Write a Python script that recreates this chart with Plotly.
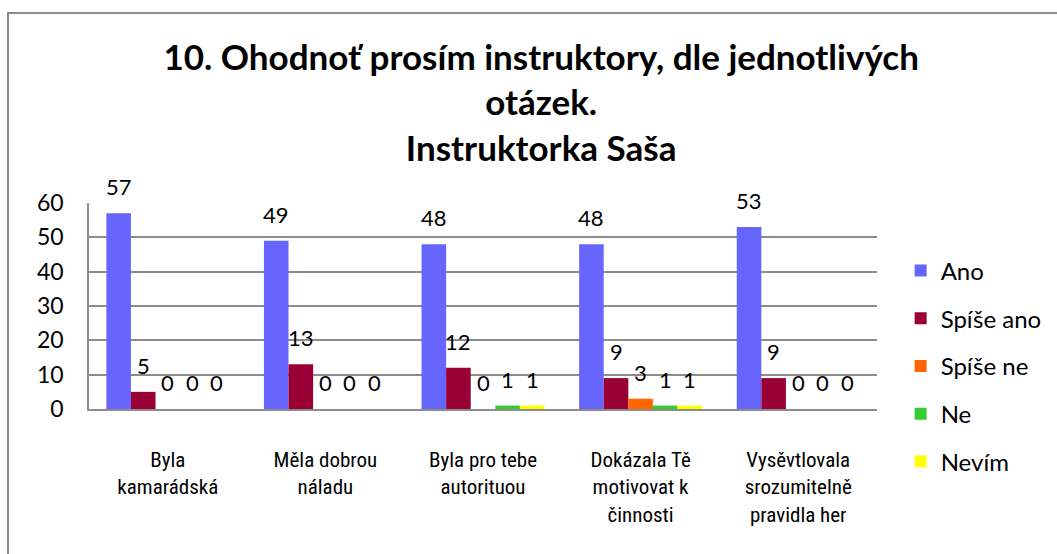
import plotly.graph_objects as go

categories = ["Byla<br>kamarádská", "Měla dobrou<br>náladu", "Byla pro tebe<br>autorituou",
              "Dokázala Tě<br>motivovat k<br>činnosti", "Vysěvtlovala<br>srozumitelně<br>pravidla her"]
series_names = ["Ano", "Spíše ano", "Spíše ne", "Ne", "Nevím"]
ano = [57, 49, 48, 48, 53]
spise_ano = [5, 13, 12, 9, 9]
spise_ne = [0, 0, 0, 3, 0]
ne = [0, 0, 1, 1, 0]
nevim = [0, 0, 1, 1, 0]
colors = ["#6666FF", "#990033", "#FF6600", "#33CC33", "#FFFF00"]

values = [ano, spise_ano, spise_ne, ne, nevim]
FONT = "Lato, Carlito, Calibri, sans-serif"
NARROW = "Liberation Sans Narrow, Roboto Condensed, Lato, sans-serif"

W, H = 1057, 554
L, R, T, B = 89, 180, 203, 145
pw = W - L - R
ph = H - T - B

fig = go.Figure()
for i, (name, vals, col) in enumerate(zip(series_names, values, colors)):
    fig.add_trace(go.Bar(x=categories, y=vals, name=name, marker=dict(color=col, line=dict(width=0)),
                         legendgroup=name))

bargap = 0.22
cat_w = pw / len(categories)
bar_w = cat_w * (1 - bargap) / len(series_names)
annotations = []
for i, vals in enumerate(values):
    for c, v in zip(categories, vals):
        annotations.append(dict(x=c, y=v, xref="x", yref="y", text=str(v), showarrow=False,
                                xshift=(i - 2) * bar_w, yshift=11, yanchor="bottom",
                                font=dict(family=FONT, size=22, color="black")))

fig.update_layout(
    width=W, height=H,
    margin=dict(l=L, r=R, t=T, b=B, autoexpand=False),
    paper_bgcolor="white", plot_bgcolor="white",
    barmode="group", bargap=bargap, bargroupgap=0,
    font=dict(family=FONT, size=20, color="black"),
    title=dict(text="<b>10. Ohodnoť prosím instruktory, dle jednotlivých<br>otázek.<br>Instruktorka Saša</b>",
               x=0.512, xanchor="center", y=0.874, yanchor="top",
               font=dict(family=FONT, size=35, color="black")),
    legend=dict(x=1.03, xanchor="left", y=0.209, yanchor="middle", tracegroupgap=13.5,
                itemwidth=30, maxheight=500,
                font=dict(family=FONT, size=24), bgcolor="rgba(0,0,0,0)"),
    annotations=annotations,
    shapes=[dict(type="rect", xref="paper", yref="paper",
                 x0=(8 - L) / pw, x1=(W + 20 - L) / pw,
                 y0=(H - B - (H + 20)) / ph, y1=(H - B - 13) / ph,
                 line=dict(color="#8c8c8c", width=2), layer="below")],
)
fig.update_yaxes(range=[0, 60], dtick=10, showgrid=True, gridcolor="#8c8c8c", gridwidth=1.5,
                 showline=True, linecolor="#8c8c8c", linewidth=1.5, ticks="", zeroline=False,
                 automargin=False, ticklabelstandoff=19, tickfont=dict(family=FONT, size=23))
fig.update_xaxes(showline=True, linecolor="#8c8c8c", linewidth=1.5, ticks="", automargin=False,
                 ticklabelstandoff=31, tickfont=dict(family=NARROW, size=21))

fig.write_html("out.html", config={"displayModeBar": False},
               post_script="document.body.style.margin='0';document.body.style.overflow='hidden';")
